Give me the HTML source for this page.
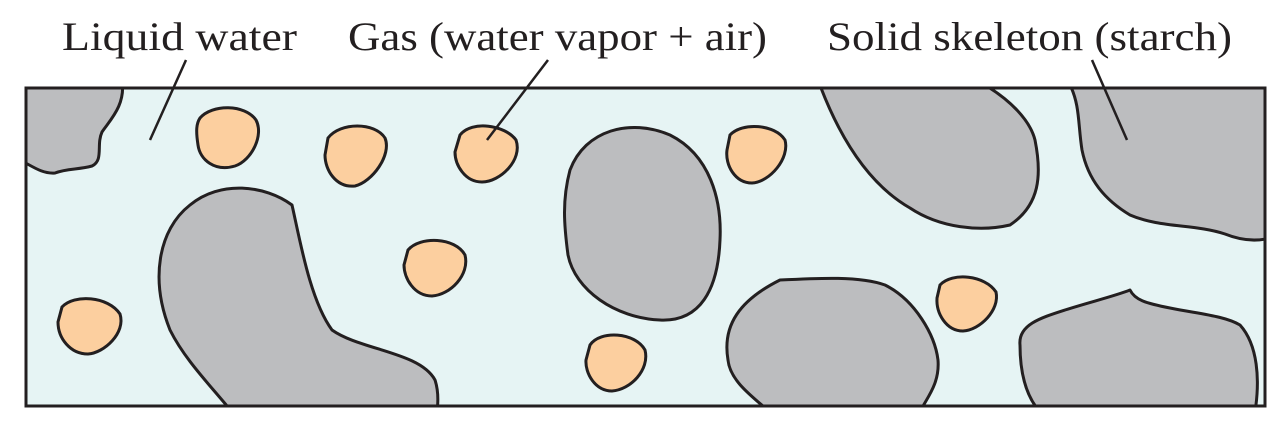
<!DOCTYPE html>
<html><head><meta charset="utf-8"><style>
body{margin:0;background:#fff;}
svg{display:block;}
text{font-family:"Liberation Serif",serif;font-size:40px;fill:#231f20;}
</style></head><body>
<svg width="1284" height="430" viewBox="0 0 1284 430" xmlns="http://www.w3.org/2000/svg">
<defs><clipPath id="c"><rect x="26" y="88" width="1239" height="318"/></clipPath></defs>
<rect x="26" y="88" width="1239" height="318" fill="#e6f4f4"/>
<g clip-path="url(#c)" fill="#bcbdbf" stroke="#231f20" stroke-width="3" stroke-linejoin="round">
<path d="M20,80 L122,80 C126,105 110,120 102,132 C96,145 104,160 92,166 C78,170 68,168 55,173 C42,174 32,166 20,160 Z"/>
<path d="M170,330 C150,280 158,230 190,205 C220,180 265,185 292,205 C300,240 310,300 332,330 C360,350 420,352 435,380 C440,395 437,410 437,412 L232,412 C210,385 185,360 170,330 Z"/>
<path d="M570,170 C585,130 630,118 670,135 C710,155 722,200 720,240 C718,290 700,322 660,320 C615,318 575,290 568,255 C564,225 562,200 570,170 Z"/>
<path d="M818,80 L985,85 C1010,100 1030,120 1035,140 C1042,175 1040,205 1010,225 C980,232 940,228 910,208 C870,185 840,140 818,80 Z"/>
<path d="M1070,85 L1270,85 L1270,238 C1255,242 1240,240 1225,234 C1195,224 1160,228 1130,215 C1105,200 1088,180 1082,150 C1078,125 1080,105 1070,85 Z"/>
<path d="M728,360 C722,325 740,300 780,280 C820,278 860,276 885,285 C915,300 935,335 938,360 C940,385 925,400 920,412 L770,412 C750,395 730,380 728,360 Z"/>
<path d="M1020,345 C1018,325 1040,318 1065,310 C1090,302 1115,296 1130,290 C1135,300 1145,303 1170,308 C1200,314 1225,316 1240,325 C1258,345 1260,380 1255,412 L1040,412 C1025,395 1020,370 1020,345 Z"/>
</g>
<rect x="26" y="88" width="1239" height="318" fill="none" stroke="#231f20" stroke-width="3"/>
<g fill="#fccf9f" stroke="#231f20" stroke-width="3">
<path d="M200,118 C212,104 245,104 256,120 C264,135 252,160 235,166 C215,172 200,160 198,145 C196,132 196,124 200,118 Z"/>
<path d="M328,138 C340,122 375,122 385,138 C392,155 372,182 355,186 C336,188 325,170 325,155 Z"/>
<path d="M460,135 C472,120 505,125 516,140 C523,160 500,182 482,182 C465,182 455,165 455,152 Z"/>
<path d="M730,135 C742,122 775,124 785,140 C790,158 770,182 752,183 C735,183 725,165 727,150 Z"/>
<path d="M408,250 C420,236 455,237 465,255 C470,275 450,295 432,296 C414,296 404,278 404,265 Z"/>
<path d="M62,307 C74,294 108,296 120,314 C126,333 104,353 88,354 C70,354 58,338 58,322 Z"/>
<path d="M590,345 C600,330 635,332 645,350 C650,370 630,390 612,391 C595,391 585,373 586,360 Z"/>
<path d="M940,285 C952,272 985,275 996,292 C1000,310 980,330 963,331 C946,331 936,313 937,298 Z"/>
</g>
<g stroke="#231f20" stroke-width="2.5">
<line x1="186" y1="60" x2="150" y2="140"/>
<line x1="548" y1="60" x2="487" y2="140"/>
<line x1="1092" y1="60" x2="1127" y2="140"/>
</g>
<text x="62" y="50" textLength="235" lengthAdjust="spacingAndGlyphs">Liquid water</text>
<text x="348" y="50" textLength="419" lengthAdjust="spacingAndGlyphs">Gas (water vapor + air)</text>
<text x="827" y="50" textLength="405" lengthAdjust="spacingAndGlyphs">Solid skeleton (starch)</text>
</svg>
</body></html>
